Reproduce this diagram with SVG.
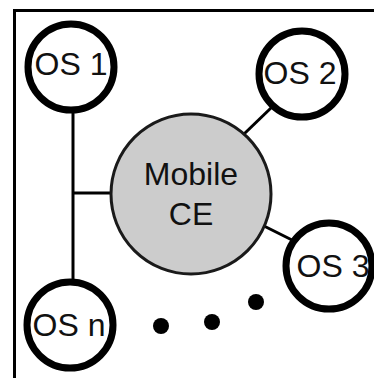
<svg xmlns="http://www.w3.org/2000/svg" width="374" height="378" viewBox="0 0 374 378">
<style>
.os{fill:#fff;stroke:#000;stroke-width:7}
.ce{fill:#cccccc;stroke:#1a1a1a;stroke-width:3}
.lbl{font-family:"Liberation Sans",Arial,sans-serif;font-size:32px;fill:#111;text-anchor:middle}
.conn{stroke:#000;stroke-width:3;fill:none}
</style>
<rect width="374" height="378" fill="#fff"/>
<path d="M14.5,378 V10.5 H374" fill="none" stroke="#000" stroke-width="3"/>
<g id="connectors">
<line class="conn" x1="73" y1="108" x2="73" y2="283"/>
<line class="conn" x1="73" y1="193" x2="112" y2="193"/>
<line class="conn" x1="244" y1="134" x2="272" y2="107"/>
<line class="conn" x1="264" y1="226" x2="292" y2="240"/>
</g>
<g id="mobile-ce">
<circle class="ce" cx="191" cy="194" r="80"/>
<text class="lbl" x="191" y="185">Mobile</text>
<text class="lbl" x="191" y="225">CE</text>
</g>
<g id="os1">
<circle class="os" cx="71" cy="67" r="43"/>
<text class="lbl" x="71" y="75">OS 1</text>
</g>
<g id="os2">
<circle class="os" cx="302" cy="74" r="43"/>
<text class="lbl" x="300" y="84">OS 2</text>
</g>
<g id="os3">
<circle class="os" cx="329" cy="266" r="43"/>
<text class="lbl" x="333" y="277">OS 3</text>
</g>
<g id="osn">
<circle class="os" cx="70" cy="325" r="43"/>
<text class="lbl" x="69" y="336">OS n</text>
</g>
<g id="dots">
<circle cx="161" cy="326" r="8"/>
<circle cx="212" cy="322" r="8"/>
<circle cx="256" cy="302" r="8"/>
</g>
</svg>
